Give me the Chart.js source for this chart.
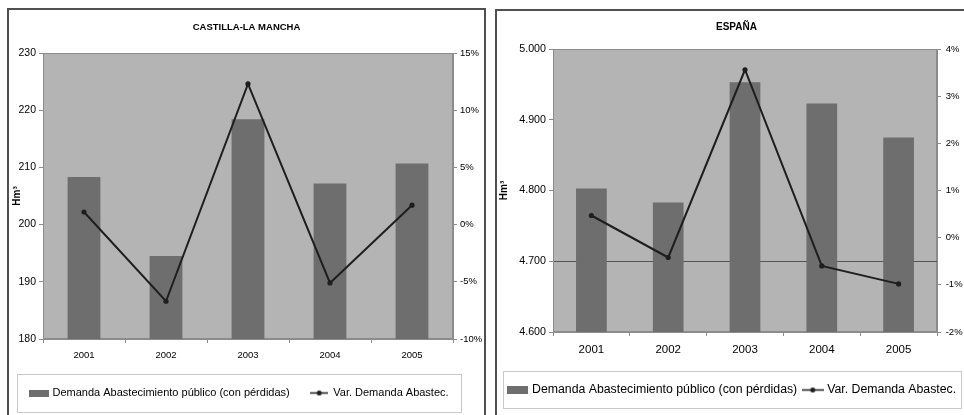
<!DOCTYPE html>
<html>
<head>
<meta charset="utf-8">
<script src="https://cdn.jsdelivr.net/npm/chart.js@4/dist/chart.umd.min.js"></script>
<style>
  html, body { margin: 0; padding: 0; background: #fff; overflow: hidden; }
  body { width: 964px; height: 415px; position: relative; }
  .panel { position: absolute; border: 2px solid #505050; box-sizing: border-box; background: #fff; }
  #pLeft { left: 7px; top: 8px; width: 479px; height: 420px; }
  #pRight { left: 495px; top: 9px; width: 478px; height: 414px; }
  canvas { display: block; }
</style>
</head>
<body>
<div class="panel" id="pLeft"><canvas id="clm" width="475" height="416"></canvas></div>
<div class="panel" id="pRight"><canvas id="esp" width="474" height="410"></canvas></div>
<script>
// datos
const years = ['2001', '2002', '2003', '2004', '2005'];
const clmDemanda = [208.3, 194.5, 218.4, 207.2, 210.7];
const clmVar = [1.1, -6.7, 12.3, -5.1, 1.7];
const espDemanda = [4803, 4783, 4953, 4923, 4875];
const espVar = [0.47, -0.42, 3.56, -0.6, -0.98];
const espYTicks = ['4.600', '4.700', '4.800', '4.900', '5.000'];

const serieBarras = 'Demanda Abastecimiento público (con pérdidas)';
const serieLinea = 'Var. Demanda Abastec.';

const BAR = '#6e6e6e';
const LINE = '#1e1e1e';
const FONT = "'Liberation Sans', Arial, sans-serif";

// iconos de la leyenda
function swatch(w, h) {
    const c = document.createElement('canvas');
    c.width = w; c.height = h;
    const g = c.getContext('2d');
    g.fillStyle = BAR;
    g.fillRect(0, 0, w, h);
    return c;
}
function lineIcon(w) {
    const c = document.createElement('canvas');
    c.width = w; c.height = 7;
    const g = c.getContext('2d');
    g.strokeStyle = LINE; g.lineWidth = 1.5;
    g.beginPath(); g.moveTo(0, 3.5); g.lineTo(w, 3.5); g.stroke();
    g.fillStyle = LINE;
    g.beginPath(); g.arc(w / 2, 3.5, 2.5, 0, Math.PI * 2); g.fill();
    return c;
}

// fondo del área de trazado + marco de la leyenda
const marco = {
    id: 'marco',
    beforeDraw(chart, args, opts) {
        const { ctx, chartArea: a } = chart;
        ctx.save();
        ctx.fillStyle = '#b4b4b4';
        ctx.fillRect(a.left, a.top, a.width, a.height);
        ctx.strokeStyle = '#8c8c8c';
        ctx.lineWidth = 1;
        ctx.strokeRect(a.left + 0.5, a.top + 0.5, a.width - 1, a.height - 1);
        ctx.restore();
    },
    afterDraw(chart, args, opts) {
        const L = chart.legend;
        const f = opts.frame;
        const ctx = chart.ctx;
        ctx.save();
        ctx.strokeStyle = '#c8c8c8';
        ctx.lineWidth = 1;
        const x0 = L.left + f.l, x1 = L.right - f.r;
        const y0 = L.top + f.t, y1 = L.bottom + f.b;
        ctx.strokeRect(Math.round(x0) + 0.5, Math.round(y0) + 0.5, Math.round(x1 - x0), Math.round(y1 - y0));
        ctx.restore();
    }
};

function renderChart(canvasId, cfg) {
    const canvas = document.getElementById(canvasId);
    if (!canvas) return;
    const icons = [swatch(cfg.swatch[0], cfg.swatch[1]), lineIcon(cfg.lineW)];

    new Chart(canvas.getContext('2d'), {
        type: 'bar',
        data: {
            labels: years,
            datasets: [{
                label: serieBarras,
                data: cfg.bars,
                backgroundColor: BAR,
                barPercentage: 0.4,
                categoryPercentage: 1,
                yAxisID: 'y',
                order: 2
            }, {
                type: 'line',
                label: serieLinea,
                data: cfg.line,
                borderColor: LINE,
                borderWidth: 2,
                pointRadius: 2.6,
                pointBackgroundColor: LINE,
                pointBorderWidth: 0,
                tension: 0,
                yAxisID: 'y1',
                order: 1
            }]
        },
        options: {
            responsive: false,
            animation: false,
            devicePixelRatio: 1,
            layout: { padding: cfg.padding },
            plugins: {
                tooltip: { enabled: false },
                title: {
                    display: true,
                    text: cfg.title,
                    color: '#000',
                    font: { family: FONT, size: cfg.titleSize, weight: 'bold' },
                    padding: cfg.titlePad
                },
                legend: {
                    position: 'bottom',
                    align: 'start',
                    labels: {
                        usePointStyle: true,
                        pointStyleWidth: cfg.boxW,
                        padding: cfg.legendPad,
                        color: '#000',
                        font: { family: FONT, size: cfg.legendSize },
                        generateLabels: () => [serieBarras, serieLinea].map((t, i) => ({
                            text: t, pointStyle: icons[i], fillStyle: BAR, strokeStyle: LINE,
                            lineWidth: 0, hidden: false, datasetIndex: i, fontColor: '#000'
                        }))
                    }
                },
                marco: { frame: cfg.frame }
            },
            scales: {
                x: {
                    grid: { offset: true, drawOnChartArea: false, drawTicks: true, tickLength: 4, color: '#8c8c8c' },
                    border: { color: '#8c8c8c' },
                    ticks: { color: '#000', padding: cfg.xPad, font: { family: FONT, size: cfg.xSize } },
                    afterFit(s) { s.height = cfg.xH; }
                },
                y: {
                    position: 'left',
                    min: cfg.yMin, max: cfg.yMax,
                    grid: {
                        drawOnChartArea: cfg.gridAt !== undefined,
                        tickLength: 4,
                        color: c => (c.tick && c.tick.value === cfg.gridAt) ? '#555' : 'rgba(0,0,0,0)',
                        tickColor: '#8c8c8c'
                    },
                    border: { color: '#8c8c8c' },
                    ticks: {
                        stepSize: cfg.yStep, padding: 3, color: '#000',
                        font: { family: FONT, size: cfg.ySize },
                        callback: cfg.yLabel
                    },
                    title: {
                        display: true, text: 'Hm³', color: '#000',
                        font: { family: FONT, size: 10, weight: 'bold' },
                        padding: { top: cfg.yTitlePad, bottom: 0 }
                    },
                    afterFit(s) { s.width = cfg.yW; }
                },
                y1: {
                    position: 'right',
                    min: cfg.pMin, max: cfg.pMax,
                    grid: { drawOnChartArea: false, tickLength: 4, color: '#8c8c8c' },
                    border: { color: '#8c8c8c' },
                    ticks: {
                        stepSize: 1 * cfg.pStep, padding: cfg.pPad, color: '#000',
                        font: { family: FONT, size: cfg.pSize },
                        callback: v => v + '%'
                    },
                    afterFit(s) { s.width = cfg.y1W; }
                }
            }
        },
        plugins: [marco]
    });
}

renderChart('clm', {
    title: 'CASTILLA-LA MANCHA', titleSize: 9.5, titlePad: { top: 11.3, bottom: 20.3 },
    bars: clmDemanda, line: clmVar,
    padding: { left: 0, right: 0, top: 0, bottom: 17.5 },
    yMin: 180, yMax: 230, yStep: 10, ySize: 10.5, yW: 34, yTitlePad: 2,
    pMin: -10, pMax: 15, pStep: 5, pSize: 9.5, y1W: 31, pPad: 3,
    xSize: 9.5, xPad: 7, xH: 27.5,
    legendSize: 11, legendPad: 21, boxW: 17, swatch: [20, 7], lineW: 18,
    frame: { l: 8, r: 23, t: 7.5, b: 3.5 }
});

renderChart('esp', {
    title: 'ESPAÑA', titleSize: 10, titlePad: { top: 10, bottom: 16 },
    bars: espDemanda, line: espVar, gridAt: 4700,
    padding: { left: 5, right: 0, top: 0, bottom: 14.85 },
    yMin: 4600, yMax: 5000, yStep: 100, ySize: 10.7, yW: 51, yTitlePad: -4,
    yLabel: (v, i) => espYTicks[i],
    pMin: -2, pMax: 4, pStep: 1, pSize: 9.5, y1W: 34, pPad: 4.7,
    xSize: 11.5, xPad: 7, xH: 44.7,
    legendSize: 12.3, legendPad: 7.15, boxW: 16.7, swatch: [21, 8], lineW: 22,
    frame: { l: 1, r: 10, t: -5.7, b: 1.85 }
});
</script>
</body>
</html>
